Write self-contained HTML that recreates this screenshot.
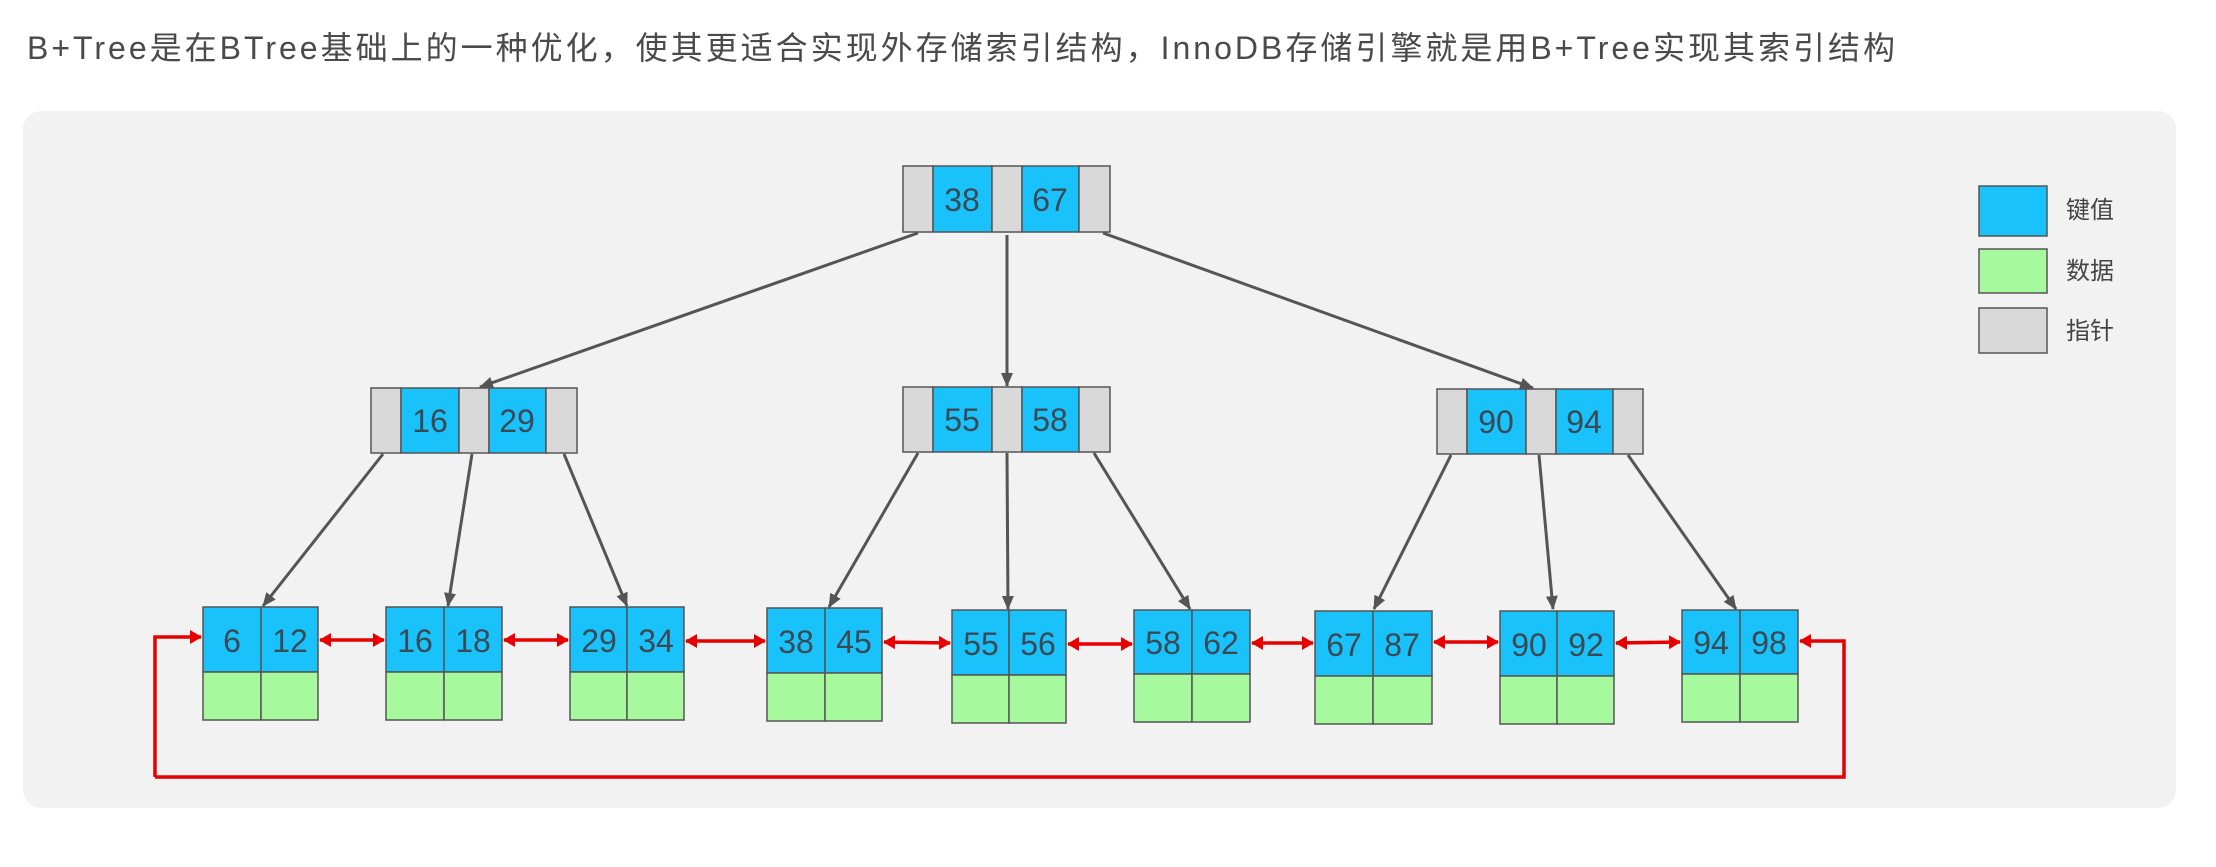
<!DOCTYPE html>
<html><head><meta charset="utf-8"><style>
html,body{margin:0;padding:0;background:#fff;width:2216px;height:867px;overflow:hidden}
</style></head><body>
<svg width="2216" height="867" xmlns="http://www.w3.org/2000/svg" style="position:absolute;left:0;top:0">
<defs>
<marker id="ga" markerWidth="14" markerHeight="12" refX="13" refY="6" orient="auto" markerUnits="userSpaceOnUse" viewBox="0 0 14 12"><path d="M0,0 L14,6 L0,12 z" fill="#555"/></marker>
<marker id="ra" markerWidth="12" markerHeight="14" refX="11" refY="7" orient="auto" markerUnits="userSpaceOnUse" viewBox="0 0 12 14"><path d="M0,0 L12,7 L0,14 z" fill="#e60000"/></marker>
<marker id="rs" markerWidth="12" markerHeight="14" refX="1" refY="7" orient="auto" markerUnits="userSpaceOnUse" viewBox="0 0 12 14"><path d="M12,0 L0,7 L12,14 z" fill="#e60000"/></marker>
</defs>
<text x="27" y="59" font-family="Liberation Sans, Noto Sans CJK SC, sans-serif" font-size="32" letter-spacing="3.0" fill="#4a4a4a">B+Tree是在BTree基础上的一种优化，使其更适合实现外存储索引结构，InnoDB存储引擎就是用B+Tree实现其索引结构</text>
<rect x="23" y="111" width="2153" height="697" rx="18" fill="#f2f2f2"/>
<g stroke="#555" stroke-width="1.5">
<rect x="903" y="166" width="30" height="66" fill="#d9d9d9"/><rect x="933" y="166" width="59" height="66" fill="#1ac2fc"/><rect x="992" y="166" width="30" height="66" fill="#d9d9d9"/><rect x="1022" y="166" width="57" height="66" fill="#1ac2fc"/><rect x="1079" y="166" width="31" height="66" fill="#d9d9d9"/>
<rect x="371" y="388" width="30" height="65" fill="#d9d9d9"/><rect x="401" y="388" width="58" height="65" fill="#1ac2fc"/><rect x="459" y="388" width="30" height="65" fill="#d9d9d9"/><rect x="489" y="388" width="57" height="65" fill="#1ac2fc"/><rect x="546" y="388" width="31" height="65" fill="#d9d9d9"/>
<rect x="903" y="387" width="30" height="65" fill="#d9d9d9"/><rect x="933" y="387" width="59" height="65" fill="#1ac2fc"/><rect x="992" y="387" width="30" height="65" fill="#d9d9d9"/><rect x="1022" y="387" width="57" height="65" fill="#1ac2fc"/><rect x="1079" y="387" width="31" height="65" fill="#d9d9d9"/>
<rect x="1437" y="389" width="30" height="65" fill="#d9d9d9"/><rect x="1467" y="389" width="59" height="65" fill="#1ac2fc"/><rect x="1526" y="389" width="30" height="65" fill="#d9d9d9"/><rect x="1556" y="389" width="57" height="65" fill="#1ac2fc"/><rect x="1613" y="389" width="30" height="65" fill="#d9d9d9"/>
<rect x="1979" y="186" width="68" height="50" fill="#1ac2fc"/>
<rect x="1979" y="249" width="68" height="44" fill="#a6f99c"/>
<rect x="1979" y="308" width="68" height="45" fill="#d9d9d9"/>
</g>
<g font-family="Liberation Sans, sans-serif" font-size="32" fill="#3a4a55" text-anchor="middle">
<text x="962" y="211">38</text><text x="1050" y="211">67</text>
<text x="430" y="432">16</text><text x="517" y="432">29</text>
<text x="962" y="431">55</text><text x="1050" y="431">58</text>
<text x="1496" y="433">90</text><text x="1584" y="433">94</text>
</g>
<g font-family="Liberation Sans, Noto Sans CJK SC, sans-serif" font-size="24" fill="#444">
<text x="2066" y="218">键值</text><text x="2066" y="279">数据</text><text x="2066" y="339">指针</text>
</g>
<g stroke="#555" stroke-width="1.5">
<rect x="203" y="607" width="58" height="65" fill="#1ac2fc"/><rect x="261" y="607" width="57" height="65" fill="#1ac2fc"/><rect x="203" y="672" width="58" height="48" fill="#a6f99c"/><rect x="261" y="672" width="57" height="48" fill="#a6f99c"/>
<rect x="386" y="607" width="58" height="65" fill="#1ac2fc"/><rect x="444" y="607" width="58" height="65" fill="#1ac2fc"/><rect x="386" y="672" width="58" height="48" fill="#a6f99c"/><rect x="444" y="672" width="58" height="48" fill="#a6f99c"/>
<rect x="570" y="607" width="57" height="65" fill="#1ac2fc"/><rect x="627" y="607" width="57" height="65" fill="#1ac2fc"/><rect x="570" y="672" width="57" height="48" fill="#a6f99c"/><rect x="627" y="672" width="57" height="48" fill="#a6f99c"/>
<rect x="767" y="608" width="58" height="65" fill="#1ac2fc"/><rect x="825" y="608" width="57" height="65" fill="#1ac2fc"/><rect x="767" y="673" width="58" height="48" fill="#a6f99c"/><rect x="825" y="673" width="57" height="48" fill="#a6f99c"/>
<rect x="952" y="610" width="57" height="65" fill="#1ac2fc"/><rect x="1009" y="610" width="57" height="65" fill="#1ac2fc"/><rect x="952" y="675" width="57" height="48" fill="#a6f99c"/><rect x="1009" y="675" width="57" height="48" fill="#a6f99c"/>
<rect x="1134" y="610" width="58" height="64" fill="#1ac2fc"/><rect x="1192" y="610" width="58" height="64" fill="#1ac2fc"/><rect x="1134" y="674" width="58" height="48" fill="#a6f99c"/><rect x="1192" y="674" width="58" height="48" fill="#a6f99c"/>
<rect x="1315" y="611" width="58" height="65" fill="#1ac2fc"/><rect x="1373" y="611" width="59" height="65" fill="#1ac2fc"/><rect x="1315" y="676" width="58" height="48" fill="#a6f99c"/><rect x="1373" y="676" width="59" height="48" fill="#a6f99c"/>
<rect x="1500" y="611" width="57" height="65" fill="#1ac2fc"/><rect x="1557" y="611" width="57" height="65" fill="#1ac2fc"/><rect x="1500" y="676" width="57" height="48" fill="#a6f99c"/><rect x="1557" y="676" width="57" height="48" fill="#a6f99c"/>
<rect x="1682" y="610" width="58" height="64" fill="#1ac2fc"/><rect x="1740" y="610" width="58" height="64" fill="#1ac2fc"/><rect x="1682" y="674" width="58" height="48" fill="#a6f99c"/><rect x="1740" y="674" width="58" height="48" fill="#a6f99c"/>
</g>
<g font-family="Liberation Sans, sans-serif" font-size="32" fill="#3a4a55" text-anchor="middle">
<text x="232" y="652">6</text><text x="290" y="652">12</text>
<text x="415" y="652">16</text><text x="473" y="652">18</text>
<text x="599" y="652">29</text><text x="656" y="652">34</text>
<text x="796" y="653">38</text><text x="854" y="653">45</text>
<text x="981" y="655">55</text><text x="1038" y="655">56</text>
<text x="1163" y="654">58</text><text x="1221" y="654">62</text>
<text x="1344" y="656">67</text><text x="1402" y="656">87</text>
<text x="1529" y="656">90</text><text x="1586" y="656">92</text>
<text x="1711" y="654">94</text><text x="1769" y="654">98</text>
</g>
<g stroke="#555" stroke-width="3" marker-end="url(#ga)" fill="none">
<line x1="918" y1="233" x2="480" y2="387"/>
<line x1="1007" y1="235" x2="1007" y2="386"/>
<line x1="1103" y1="233" x2="1533" y2="388"/>
<line x1="383" y1="454" x2="263" y2="606"/>
<line x1="472" y1="454" x2="448" y2="606"/>
<line x1="564" y1="454" x2="627" y2="606"/>
<line x1="918" y1="453" x2="829" y2="607"/>
<line x1="1007" y1="453" x2="1008" y2="609"/>
<line x1="1094" y1="453" x2="1190" y2="609"/>
<line x1="1451" y1="455" x2="1374" y2="609"/>
<line x1="1539" y1="455" x2="1553" y2="609"/>
<line x1="1628" y1="455" x2="1736" y2="609"/>
</g>
<g stroke="#e60000" stroke-width="3.5" fill="none">
<g marker-start="url(#rs)" marker-end="url(#ra)">
<line x1="320" y1="640" x2="384" y2="640"/>
<line x1="504" y1="640" x2="568" y2="640"/>
<line x1="686" y1="641" x2="765" y2="641"/>
<line x1="884" y1="642" x2="950" y2="643"/>
<line x1="1068" y1="644" x2="1132" y2="644"/>
<line x1="1252" y1="643" x2="1313" y2="643"/>
<line x1="1434" y1="642" x2="1498" y2="642"/>
<line x1="1616" y1="643" x2="1680" y2="642"/>
</g>
<polyline points="155,777 155,637 201,637" marker-end="url(#ra)"/>
<polyline points="155,777 1844,777 1844,641 1800,641" marker-end="url(#ra)"/>
</g>
</svg>
</body></html>
